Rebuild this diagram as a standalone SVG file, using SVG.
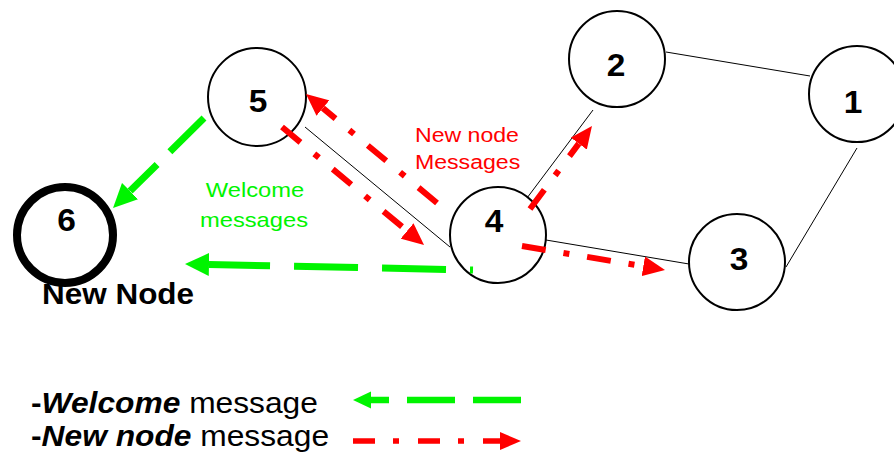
<svg xmlns="http://www.w3.org/2000/svg" width="894" height="456" viewBox="0 0 894 456">
<style>
.node{fill:#fff;stroke:#000;stroke-width:2}
.num{font-family:"Liberation Sans",Arial,sans-serif;font-weight:bold;font-size:31px;text-anchor:middle;fill:#000}
.link{stroke:#000;stroke-width:1;fill:none}
.red{stroke:#ff0000;stroke-width:6;fill:none;stroke-dasharray:24 18 6 18;marker-end:url(#rh)}
.grn{stroke:#00f400;stroke-width:7;fill:none;marker-end:url(#gh)}
.lbl{font-family:"Liberation Sans",Arial,sans-serif;font-size:21px}
.leg{font-family:"Liberation Sans",Arial,sans-serif;font-size:29px;fill:#000}
</style>
<defs>
<marker id="rh" markerUnits="userSpaceOnUse" viewBox="0 -10 22 20" markerWidth="22" markerHeight="20" refX="0" refY="0" orient="auto"><path d="M0,-10 L22,0 L0,10 Z" fill="#ff0000"/></marker>
<marker id="gh" markerUnits="userSpaceOnUse" viewBox="0 -12 24 24" markerWidth="24" markerHeight="24" refX="0" refY="0" orient="auto"><path d="M0,-11.5 L24,0 L0,11.5 Z" fill="#00f400"/></marker>
<marker id="lgh" markerUnits="userSpaceOnUse" viewBox="0 -9 18 18" markerWidth="18" markerHeight="18" refX="0" refY="0" orient="auto"><path d="M0,-8.5 L18,0 L0,8.5 Z" fill="#00f400"/></marker>
<marker id="lrh" markerUnits="userSpaceOnUse" viewBox="0 -9 21 18" markerWidth="21" markerHeight="18" refX="0" refY="0" orient="auto"><path d="M0,-9 L21,0 L0,9 Z" fill="#ff0000"/></marker>
</defs>
<rect width="894" height="456" fill="#fff"/>

<g id="links">
<line class="link" x1="305" y1="127" x2="450" y2="247"/>
<line class="link" x1="521" y1="206" x2="593" y2="110"/>
<line class="link" x1="546" y1="240" x2="689" y2="264"/>
<line class="link" x1="666" y1="52" x2="810" y2="76"/>
<line class="link" x1="857" y1="148" x2="786" y2="267"/>
</g>

<g id="node5"><circle class="node" cx="257" cy="97" r="49"/><text class="num" transform="translate(258,112) scale(1.08,1)">5</text></g>
<g id="node6"><circle cx="65" cy="235" r="48" fill="#fff" stroke="#000" stroke-width="8"/><text class="num" transform="translate(66.5,231) scale(1.08,1)">6</text>
<text transform="translate(42,304) scale(1.085,1)" style="font-family:'Liberation Sans',Arial,sans-serif;font-weight:bold;font-size:29px;fill:#000">New Node</text></g>
<g id="node4"><circle class="node" cx="498" cy="235" r="48"/><text class="num" transform="translate(494,232) scale(1.08,1)">4</text></g>
<g id="node2"><circle class="node" cx="617" cy="59" r="48"/><text class="num" transform="translate(616,76) scale(1.08,1)">2</text></g>
<g id="node1"><circle class="node" cx="857" cy="94" r="48"/><text class="num" transform="translate(853,113) scale(1.08,1)">1</text></g>
<g id="node3"><circle class="node" cx="737" cy="262" r="48"/><text class="num" transform="translate(739,270) scale(1.08,1)">3</text></g>

<g id="connectors">
<path class="red" d="M437,203 L322.9,108.1"/>
<path class="red" d="M282,127 L407.1,230.9"/>
<path class="red" d="M530,209 L578.8,143.6"/>
<path class="red" d="M522,246 L643.3,266.3"/>
<path class="grn" d="M204,118 L130.1,191.1" stroke-dasharray="48 18"/>
<path class="grn" d="M473,270 L209,264.5" stroke-dasharray="64 24" stroke-dashoffset="61"/>
</g>

<g id="labels">
<text class="lbl" fill="#ff0000" transform="translate(415,142) scale(1.1,1)">New node</text>
<text class="lbl" fill="#ff0000" transform="translate(415,169) scale(1.1,1)">Messages</text>
<text class="lbl" fill="#00f400" text-anchor="middle" transform="translate(255,197) scale(1.13,1)">Welcome</text>
<text class="lbl" fill="#00f400" text-anchor="middle" transform="translate(254,227) scale(1.13,1)">messages</text>
</g>

<g id="legend">
<text class="leg" transform="translate(31,413) scale(1.095,1)"><tspan font-weight="bold">-</tspan><tspan font-weight="bold" font-style="italic">Welcome</tspan> message</text>
<text class="leg" transform="translate(31,446) scale(1.095,1)"><tspan font-weight="bold">-</tspan><tspan font-weight="bold" font-style="italic">New node</tspan> message</text>
<path d="M521,400 L371,400" stroke="#00f400" stroke-width="6.5" fill="none" stroke-dasharray="48 18" marker-end="url(#lgh)"/>
<path d="M353,441 L500,441" stroke="#ff0000" stroke-width="5.5" fill="none" stroke-dasharray="22 18 6 19" marker-end="url(#lrh)"/>
</g>
</svg>
